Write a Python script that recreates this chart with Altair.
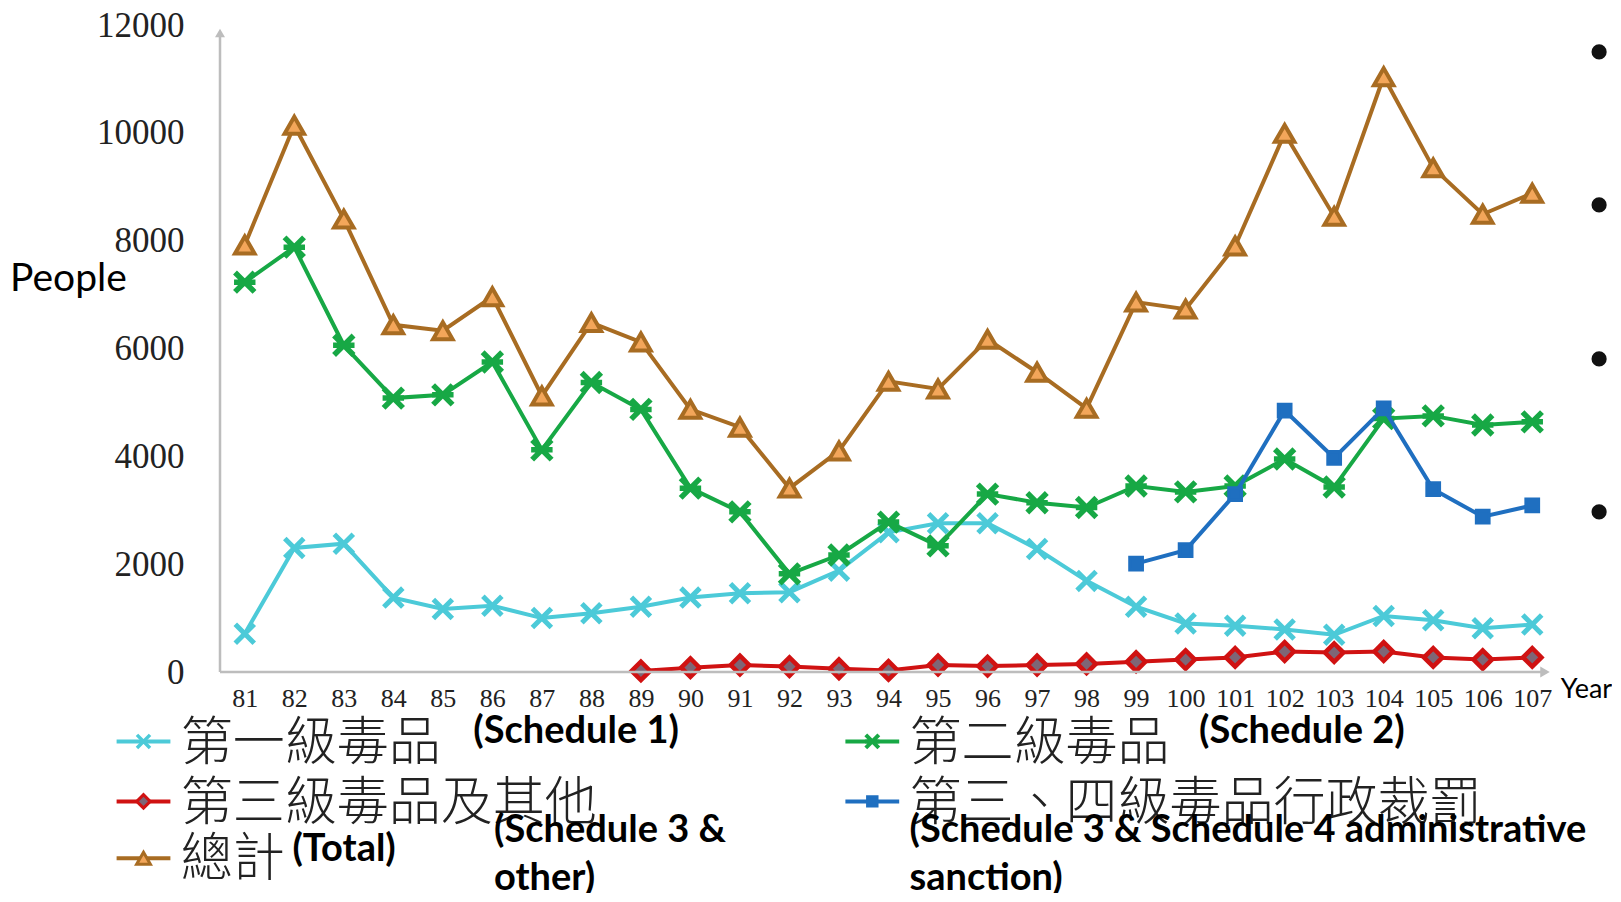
import altair as alt
import pandas as pd

# ---------------- data ----------------
years = list(range(81, 108))

schedule1 = [710, 2300, 2380, 1380, 1170, 1230, 1000, 1090, 1210, 1380, 1460, 1480,
             1880, 2590, 2760, 2760, 2280, 1690, 1210, 900, 860, 790, 690, 1040, 960, 810, 880]
schedule2 = [7230, 7880, 6060, 5080, 5140, 5750, 4120, 5370, 4870, 3410, 2970, 1820,
             2170, 2780, 2340, 3300, 3140, 3050, 3450, 3340, 3450, 3950, 3430, 4700, 4750, 4580, 4640]
sched3_years = list(range(89, 108))
schedule3 = [20, 80, 130, 100, 60, 30, 130, 110, 130, 150, 190, 230, 270, 380, 360, 380, 270, 230, 270]
admin_years = list(range(99, 108))
admin34 = [2010, 2260, 3300, 4850, 3970, 4890, 3390, 2880, 3090]
total = [7920, 10140, 8400, 6440, 6330, 6960, 5120, 6480, 6120, 4870, 4540, 3410,
         4100, 5390, 5250, 6170, 5560, 4890, 6860, 6730, 7900, 9990, 8450, 11040, 9350, 8490, 8880]

y_ticks = [0, 2000, 4000, 6000, 8000, 10000, 12000]

def frame(xs, vs):
    return pd.DataFrame({"year": xs, "value": vs})

S = 1.0338
def px(v):
    return round(v * S, 1)

W, H = 1337, 647
xs = alt.Scale(domain=[80.5, 107.5], nice=False, zero=False)
ys = alt.Scale(domain=[0, 12000], nice=False)

xenc = alt.X("year:Q", scale=xs,
             axis=alt.Axis(values=years, format="d", domain=False, ticks=False, grid=False,
                           labelFont="Liberation Serif", labelFontSize=26, labelColor="#222222",
                           labelPadding=13, labelOverlap=False, title=None, labelFlush=False))
yenc = alt.Y("value:Q", scale=ys,
             axis=alt.Axis(values=y_ticks, format="d", domain=False, ticks=False, grid=False,
                           labelFont="Liberation Serif", labelFontSize=35, labelColor="#222222",
                           labelPadding=36, title=None, labelFlush=False))

def series(df, color, shape, size, filled, fill=None, stroke_w=3.5, first=False):
    base = alt.Chart(df)
    line = base.mark_line(color=color, strokeWidth=4).encode(
        x=xenc if first else alt.X("year:Q", scale=xs),
        y=yenc if first else alt.Y("value:Q", scale=ys))
    pkw = dict(shape=shape, size=size, filled=filled, stroke=color, strokeWidth=stroke_w, opacity=1)
    if filled:
        pkw["fill"] = fill if fill else color
        pkw["fillOpacity"] = 1
    pts = base.mark_point(**pkw).encode(x=alt.X("year:Q", scale=xs), y=alt.Y("value:Q", scale=ys))
    return [line, pts]

XSHAPE = "M-1,-1L1,1M1,-1L-1,1"
STAR = "M-1,-1L1,1M1,-1L-1,1M-1.1,0L1.1,0"

C_CYAN = "#4CCAD8"
C_GREEN = "#17A845"
C_RED = "#D01212"
C_BLUE = "#1F6FC0"
C_BROWN = "#A86C22"

layers = []
layers += series(frame(years, schedule1), C_CYAN, XSHAPE, 360, False, stroke_w=5, first=True)
layers += series(frame(years, schedule2), C_GREEN, STAR, 380, False, stroke_w=5.5)
layers += series(frame(sched3_years, schedule3), C_RED, "diamond", 340, True, fill="#7E6676", stroke_w=4.5)
layers += series(frame(admin_years, admin34), C_BLUE, "square", 150, True)
layers += series(frame(years, total), C_BROWN, "triangle-up", 380, True, fill="#F3A65A", stroke_w=4)

one = alt.Data(values=[{"a": 1}])
AX = "#BDBDBD"
# axis lines with arrow heads
layers.append(alt.Chart(one).mark_rule(color=AX, strokeWidth=2.5).encode(
    x=alt.value(0), y=alt.value(8), y2=alt.value(H)))
layers.append(alt.Chart(one).mark_point(shape="triangle-up", filled=True, color=AX, size=100, opacity=1).encode(
    x=alt.value(0), y=alt.value(8)))
layers.append(alt.Chart(one).mark_rule(color=AX, strokeWidth=2.5).encode(
    x=alt.value(0), x2=alt.value(W - 12), y=alt.value(H)))
layers.append(alt.Chart(one).mark_point(shape="triangle-right", filled=True, color=AX, size=120, opacity=1).encode(
    x=alt.value(W - 12), y=alt.value(H)))

def txt(text, x, y, font, size, weight="normal", color="#111111", baseline="middle"):
    return alt.Chart(one).mark_text(text=text, font=font, fontSize=size, fontWeight=weight,
                                    color=color, align="left", baseline=baseline).encode(
        x=alt.value(px(x)), y=alt.value(px(y)))

def sample(x0, y, color, shape, size, filled, fill=None, stroke_w=3.5):
    out = [alt.Chart(one).mark_rule(color=color, strokeWidth=4).encode(
        x=alt.value(px(x0)), x2=alt.value(px(x0 + 52)), y=alt.value(px(y)))]
    pkw = dict(shape=shape, size=size, filled=filled, stroke=color, strokeWidth=stroke_w, opacity=1)
    if filled:
        pkw["fill"] = fill if fill else color
        pkw["fillOpacity"] = 1
    out.append(alt.Chart(one).mark_point(**pkw).encode(x=alt.value(px(x0 + 26)), y=alt.value(px(y))))
    return out

CJK = "Noto Sans CJK TC"
EN = "Lato"
CJK_SIZE = 52
EN_SIZE = 38
# legend – left column
layers += sample(-100, 693, C_CYAN, XSHAPE, 170, False, stroke_w=3.5)
layers.append(txt("第一級毒品", -38, 695, CJK, CJK_SIZE, weight=300, color="#222222"))
layers.append(txt("(Schedule 1)", 245, 684, EN, EN_SIZE, weight="bold", color="#000000"))
layers += sample(-100, 751, C_RED, "diamond", 180, True, fill="#7E6676", stroke_w=3)
layers.append(txt("第三級毒品及其他", -38, 753, CJK, CJK_SIZE, weight=300, color="#222222"))
layers += sample(-100, 806, C_BROWN, "triangle-up", 190, True, fill="#F3A65A", stroke_w=3)
layers.append(txt("總計", -38, 808, CJK, CJK_SIZE, weight=300, color="#222222"))
layers.append(txt("(Total)", 70, 798, EN, EN_SIZE, weight="bold", color="#000000"))
layers.append(txt("(Schedule 3 &", 265, 780, EN, EN_SIZE, weight="bold", color="#000000"))
layers.append(txt("other)", 265, 826, EN, EN_SIZE, weight="bold", color="#000000"))
# legend – right column
layers += sample(605, 693, C_GREEN, STAR, 170, False, stroke_w=4)
layers.append(txt("第二級毒品", 667, 695, CJK, CJK_SIZE, weight=300, color="#222222"))
layers.append(txt("(Schedule 2)", 947, 684, EN, EN_SIZE, weight="bold", color="#000000"))
layers += sample(605, 751, C_BLUE, "square", 80, True)
layers.append(txt("第三、四級毒品行政裁罰", 667, 753, CJK, CJK_SIZE, weight=300, color="#222222"))
layers.append(txt("(Schedule 3 & Schedule 4 administrative", 667, 780, EN, EN_SIZE, weight="bold", color="#000000"))
layers.append(txt("sanction)", 667, 826, EN, EN_SIZE, weight="bold", color="#000000"))

# axis titles
layers.append(txt("People", -203, 246, EN, 39, color="#000000"))
layers.append(txt("Year", 1297, 643, EN, 27, color="#000000"))

# slide bullets on the right
for by in [26, 174, 323, 471]:
    layers.append(alt.Chart(one).mark_point(shape="circle", filled=True, color="#111111", size=230, opacity=1).encode(
        x=alt.value(px(1334)), y=alt.value(px(by))))

chart = alt.layer(*layers).properties(
    width=W, height=H,
    autosize=alt.AutoSizeParams(type="none"),
    padding={"left": 212, "top": 17, "right": 55, "bottom": 221},
    background="white",
).configure_view(stroke=None)

chart.save("out.html", embed_options={"renderer": "svg", "actions": False})
